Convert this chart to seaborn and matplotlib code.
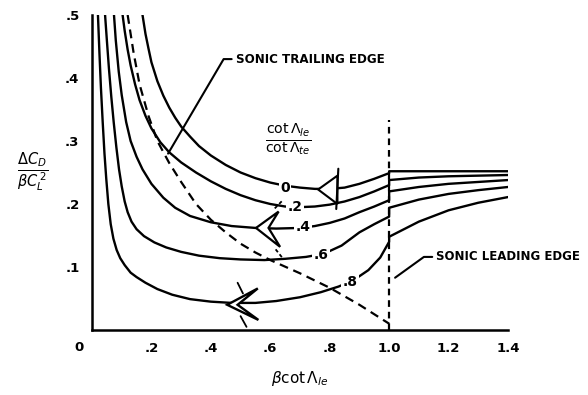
import matplotlib
matplotlib.use("Agg")
import matplotlib.pyplot as plt
from matplotlib.patches import Polygon
import seaborn as sns
import pandas as pd

# ---------------- data ----------------
ratio_labels = ["0", ".2", ".4", ".6", ".8"]

x_r0 = [0.17, 0.18, 0.19, 0.20, 0.22, 0.24, 0.26, 0.28, 0.30, 0.33, 0.36, 0.40, 0.45, 0.50,
        0.55, 0.60, 0.65, 0.70, 0.75, 0.80, 0.85, 0.90, 0.95, 1.0, 1.0, 1.2, 1.4]
y_r0 = [0.50, 0.47, 0.447, 0.425, 0.395, 0.372, 0.353, 0.337, 0.323, 0.307, 0.292, 0.277, 0.262,
        0.250, 0.241, 0.234, 0.229, 0.226, 0.224, 0.224, 0.226, 0.232, 0.240, 0.249, 0.252,
        0.252, 0.252]

x_r2 = [0.103, 0.11, 0.12, 0.13, 0.145, 0.16, 0.18, 0.20, 0.23, 0.26, 0.30, 0.35, 0.40, 0.45,
        0.50, 0.55, 0.60, 0.65, 0.70, 0.75, 0.80, 0.85, 0.90, 0.95, 1.0, 1.0, 1.1, 1.2, 1.3, 1.4]
y_r2 = [0.50, 0.475, 0.445, 0.42, 0.39, 0.365, 0.34, 0.32, 0.298, 0.282, 0.266, 0.250, 0.236,
        0.224, 0.214, 0.206, 0.200, 0.196, 0.195, 0.196, 0.199, 0.204, 0.211, 0.220, 0.230,
        0.238, 0.242, 0.244, 0.245, 0.246]

x_r4 = [0.074, 0.08, 0.09, 0.10, 0.115, 0.13, 0.15, 0.17, 0.20, 0.24, 0.28, 0.33, 0.40, 0.47,
        0.55, 0.62, 0.70, 0.75, 0.80, 0.85, 0.90, 0.95, 1.0, 1.0, 1.1, 1.2, 1.3, 1.4]
y_r4 = [0.50, 0.46, 0.41, 0.373, 0.33, 0.30, 0.275, 0.255, 0.232, 0.210, 0.194, 0.181, 0.171,
        0.165, 0.162, 0.161, 0.162, 0.165, 0.170, 0.177, 0.187, 0.196, 0.206, 0.220, 0.227,
        0.232, 0.235, 0.238]

x_r6 = [0.044, 0.05, 0.057, 0.065, 0.073, 0.082, 0.091, 0.10, 0.11, 0.12, 0.133, 0.15, 0.175,
        0.21, 0.25, 0.30, 0.36, 0.43, 0.50, 0.58, 0.65, 0.72, 0.78, 0.84, 0.90, 0.95, 1.0, 1.0,
        1.1, 1.2, 1.3, 1.4]
y_r6 = [0.50, 0.46, 0.415, 0.37, 0.33, 0.29, 0.255, 0.228, 0.204, 0.187, 0.172, 0.160, 0.149,
        0.139, 0.131, 0.124, 0.118, 0.114, 0.112, 0.111, 0.113, 0.116, 0.121, 0.134, 0.155,
        0.168, 0.180, 0.194, 0.207, 0.216, 0.222, 0.227]

x_r8 = [0.02, 0.025, 0.03, 0.036, 0.042, 0.048, 0.055, 0.063, 0.072, 0.083, 0.095, 0.11, 0.13,
        0.15, 0.18, 0.22, 0.27, 0.33, 0.40, 0.47, 0.55, 0.62, 0.70, 0.77, 0.83, 0.88, 0.93, 0.97,
        1.0, 1.0, 1.1, 1.2, 1.3, 1.4]
y_r8 = [0.50, 0.44, 0.385, 0.33, 0.28, 0.24, 0.20, 0.168, 0.145, 0.127, 0.114, 0.103, 0.091,
        0.084, 0.075, 0.065, 0.056, 0.049, 0.045, 0.043, 0.043, 0.046, 0.052, 0.060, 0.069, 0.079,
        0.095, 0.115, 0.140, 0.148, 0.172, 0.190, 0.202, 0.211]

# sonic trailing edge boundary (dashed)
x_ste = [0.12, 0.14, 0.16, 0.19, 0.22, 0.26, 0.30, 0.35, 0.40, 0.45, 0.50, 0.55, 0.60, 0.70,
         0.80, 0.90, 1.0]
y_ste = [0.50, 0.44, 0.39, 0.34, 0.30, 0.265, 0.235, 0.20, 0.175, 0.155, 0.137, 0.123, 0.111,
         0.090, 0.067, 0.040, 0.010]

# sonic leading edge (vertical dashed)
x_sle = [1.0, 1.0]
y_sle = [0.0, 0.333]

# curve-label positions
lab_x = [0.65, 0.684, 0.71, 0.771, 0.869]
lab_y = [0.226, 0.195, 0.163, 0.119, 0.076]

x_ticks = [0.2, 0.4, 0.6, 0.8, 1.0, 1.2, 1.4]
x_ticklabels = [".2", ".4", ".6", ".8", "1.0", "1.2", "1.4"]
y_ticks = [0.1, 0.2, 0.3, 0.4, 0.5]
y_ticklabels = [".1", ".2", ".3", ".4", ".5"]

# ---------------- styling ----------------
sns.set_theme(style="white")
plt.rcParams['font.family'] = ['DejaVu Sans']
plt.rcParams['mathtext.fontset'] = 'dejavusans'
plt.rcParams['text.color'] = 'black'
plt.rcParams['axes.labelcolor'] = 'black'
plt.rcParams['xtick.color'] = 'black'
plt.rcParams['ytick.color'] = 'black'

fig = plt.figure(figsize=(5.88, 3.95), dpi=100)
ax = fig.add_axes([92 / 588, 65 / 395, 416 / 588, 315 / 395])

LW = 1.7
curves = [(x_r0, y_r0), (x_r2, y_r2), (x_r4, y_r4), (x_r6, y_r6), (x_r8, y_r8)]
for xs, ys in curves:
    df = pd.DataFrame({"x": xs, "y": ys})
    sns.lineplot(data=df, x="x", y="y", sort=False, estimator=None, color="black",
                 lw=LW, ax=ax, zorder=2)

df_ste = pd.DataFrame({"x": x_ste, "y": y_ste})
sns.lineplot(data=df_ste, x="x", y="y", sort=False, estimator=None, color="black",
             lw=1.6, linestyle=(0, (4, 2.6)), ax=ax, zorder=2)
df_sle = pd.DataFrame({"x": x_sle, "y": y_sle})
sns.lineplot(data=df_sle, x="x", y="y", sort=False, estimator=None, color="black",
             lw=1.6, linestyle=(0, (3, 2.2)), ax=ax, zorder=2)

ax.set_xlim(0, 1.4)
ax.set_ylim(0, 0.5)
sns.despine(ax=ax)
for s in ["left", "bottom"]:
    ax.spines[s].set_linewidth(1.8)
    ax.spines[s].set_color("black")

ax.set_xticks(x_ticks)
ax.set_xticklabels(x_ticklabels)
ax.set_yticks(y_ticks)
ax.set_yticklabels(y_ticklabels)
ax.tick_params(axis="both", direction="in", length=7, width=1.6, colors="black",
               labelsize=9.5)
ax.tick_params(axis="x", pad=9)
ax.tick_params(axis="y", pad=9)
for t in ax.get_xticklabels() + ax.get_yticklabels():
    t.set_fontweight("bold")
ax.text(-0.044, -0.028, "0", ha="center", va="center", fontsize=9.5, fontweight="bold",
        color="black", clip_on=False)

ax.set_xlabel(r"$\beta\mathrm{cot}\,\Lambda_{le}$", fontsize=11, color="black")
ax.xaxis.set_label_coords(0.5, -0.125)
ax.set_ylabel(r"$\frac{\Delta C_D}{\beta C_L^{\,2}}$", fontsize=15, rotation=0,
              ha="center", va="center", color="black")
ax.yaxis.set_label_coords(-0.142, 0.50)

# legend-like fraction
ax.text(0.66, 0.302, r"$\frac{\mathrm{cot}\,\Lambda_{le}}{\mathrm{cot}\,\Lambda_{te}}$",
        ha="center", va="center", fontsize=14.5, color="black")

# curve labels
for s, lx, ly in zip(ratio_labels, lab_x, lab_y):
    ax.text(lx, ly, s, ha="center", va="center", fontsize=10, fontweight="bold",
            color="black", bbox=dict(fc="white", ec="none", pad=1.0), zorder=4)

# planform sketches
tri = Polygon([(0.761, 0.223), (0.826, 0.245), (0.826, 0.200)], closed=True,
              fc="white", ec="black", lw=1.5, zorder=3)
ax.add_patch(tri)
ax.plot([0.829, 0.822], [0.256, 0.192], color="black", lw=1.5, zorder=3)

arr4 = Polygon([(0.552, 0.162), (0.628, 0.188), (0.594, 0.162), (0.633, 0.132)], closed=True,
               fc="white", ec="black", lw=1.6, zorder=3)
ax.add_patch(arr4)
ax.plot([0.615, 0.64], [0.193, 0.205], color="black", lw=1.3, ls=(0, (2, 1.5)), zorder=3)
ax.plot([0.618, 0.64], [0.128, 0.115], color="black", lw=1.3, ls=(0, (2, 1.5)), zorder=3)

arr8 = Polygon([(0.455, 0.040), (0.558, 0.066), (0.49, 0.040), (0.560, 0.016)], closed=True,
               fc="white", ec="black", lw=1.7, zorder=3)
ax.add_patch(arr8)
ax.plot([0.49, 0.508], [0.075, 0.058], color="black", lw=1.3, zorder=3)
ax.plot([0.50, 0.52], [0.022, 0.005], color="black", lw=1.3, zorder=3)

# annotations
ax.plot([0.256, 0.443, 0.47], [0.280, 0.430, 0.430], color="black", lw=1.5, zorder=3,
        clip_on=False)
ax.text(0.485, 0.430, "SONIC TRAILING EDGE", ha="left", va="center", fontsize=8.6,
        fontweight="bold", color="black")
ax.plot([1.02, 1.117, 1.145], [0.083, 0.116, 0.116], color="black", lw=1.5, zorder=3,
        clip_on=False)
ax.text(1.158, 0.116, "SONIC LEADING EDGE", ha="left", va="center", fontsize=8.5,
        fontweight="bold", color="black", clip_on=False)

fig.savefig("out.png", dpi=100, facecolor="white")
